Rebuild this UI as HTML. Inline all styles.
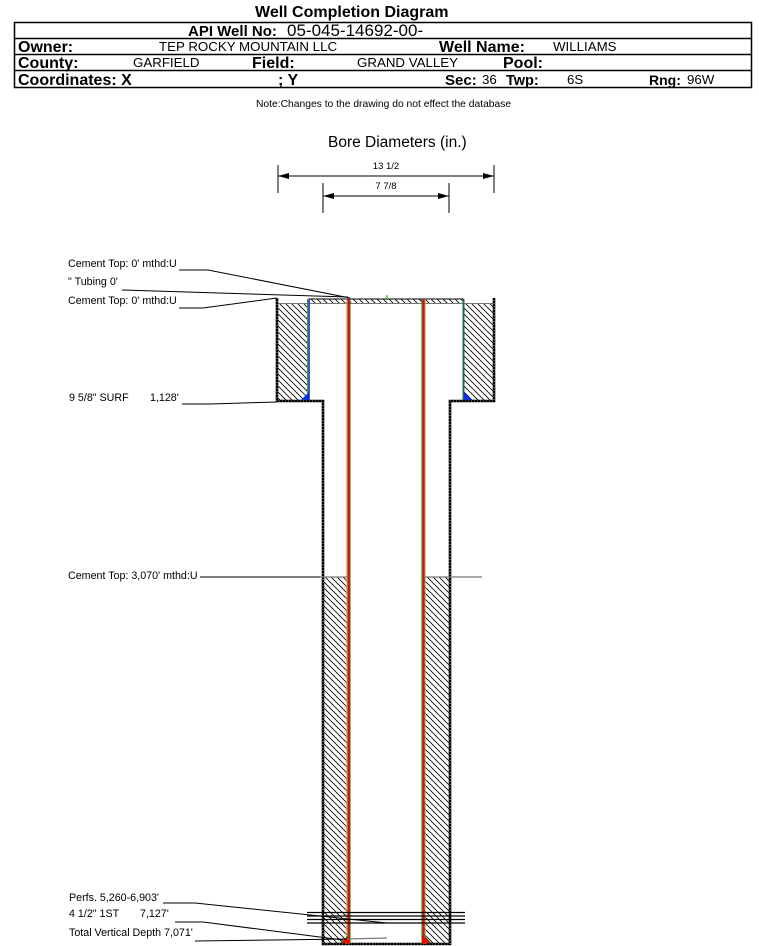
<!DOCTYPE html>
<html><head><meta charset="utf-8"><style>
html,body{margin:0;padding:0;background:#fff;}
svg{display:block;}
text{font-family:"Liberation Sans",Arial,sans-serif;fill:#000;}
.b{font-weight:bold;font-size:16px;}
.v{font-size:13.3px;}
.l{font-size:10.7px;}
</style></head><body>
<svg width="759" height="946" viewBox="0 0 759 946" xmlns="http://www.w3.org/2000/svg">
<defs>
<pattern id="h" patternUnits="userSpaceOnUse" width="6" height="6">
<path d="M-1,-1 L7,7 M-1,5 L1,7 M5,-1 L7,1" stroke="#000" stroke-width="0.8"/>
</pattern>
</defs>

<!-- Title -->
<text x="255" y="17" class="b">Well Completion Diagram</text>

<!-- Table -->
<rect x="14.5" y="22.5" width="737" height="65" fill="none" stroke="#000" stroke-width="1.5"/>
<line x1="14" y1="38.5" x2="752" y2="38.5" stroke="#000" stroke-width="1.5"/>
<line x1="14" y1="54.5" x2="752" y2="54.5" stroke="#000" stroke-width="1.5"/>
<line x1="14" y1="70.5" x2="752" y2="70.5" stroke="#000" stroke-width="1.5"/>

<text x="188" y="36" style="font-weight:bold;font-size:15px">API Well No:</text>
<text x="287" y="36" style="font-size:17px">05-045-14692-00-</text>

<text x="18" y="52" class="b">Owner:</text>
<text x="159" y="51" class="v">TEP ROCKY MOUNTAIN LLC</text>
<text x="439" y="52" class="b">Well Name:</text>
<text x="553" y="51" class="v">WILLIAMS</text>

<text x="18" y="68" class="b">County:</text>
<text x="133" y="67" class="v">GARFIELD</text>
<text x="252" y="68" class="b">Field:</text>
<text x="357" y="67" class="v">GRAND VALLEY</text>
<text x="503" y="68" class="b">Pool:</text>

<text x="18" y="85" class="b">Coordinates: X</text>
<text x="278" y="85" class="b">; Y</text>
<text x="445" y="85" style="font-weight:bold;font-size:15px">Sec:</text>
<text x="482" y="84" class="v">36</text>
<text x="506" y="85" style="font-weight:bold;font-size:14.5px">Twp:</text>
<text x="567" y="84" class="v">6S</text>
<text x="649" y="85" style="font-weight:bold;font-size:14px">Rng:</text>
<text x="687" y="84" class="v">96W</text>

<text x="256" y="107" style="font-size:10.3px">Note:Changes to the drawing do not effect the database</text>

<!-- Bore diameters -->
<text x="328" y="147" style="font-size:15.5px">Bore Diameters (in.)</text>
<line x1="278" y1="165" x2="278" y2="193" stroke="#000" stroke-width="1"/>
<line x1="494" y1="165" x2="494" y2="193" stroke="#000" stroke-width="1"/>
<line x1="278" y1="176" x2="494" y2="176" stroke="#000" stroke-width="1"/>
<polygon points="278,176 289,173 289,179" fill="#000"/>
<polygon points="494,176 483,173 483,179" fill="#000"/>
<text x="386" y="169" text-anchor="middle" style="font-size:9.5px">13 1/2</text>

<line x1="323" y1="183" x2="323" y2="213" stroke="#000" stroke-width="1"/>
<line x1="449" y1="183" x2="449" y2="213" stroke="#000" stroke-width="1"/>
<line x1="323" y1="196" x2="449" y2="196" stroke="#000" stroke-width="1"/>
<polygon points="323,196 334,193 334,199" fill="#000"/>
<polygon points="449,196 438,193 438,199" fill="#000"/>
<text x="386" y="189" text-anchor="middle" style="font-size:9.5px">7 7/8</text>

<!-- Cement hatching -->
<rect x="278" y="303" width="30" height="97" fill="url(#h)"/>
<rect x="464" y="303" width="30" height="97" fill="url(#h)"/>
<rect x="323" y="577" width="24" height="367" fill="url(#h)"/>
<rect x="424" y="577" width="26" height="367" fill="url(#h)"/>

<!-- top bar -->
<rect x="309" y="299" width="154" height="4.5" fill="url(#h)" stroke="#000" stroke-width="1"/>
<line x1="277" y1="303.5" x2="494" y2="303.5" stroke="#777" stroke-width="1"/>
<line x1="387" y1="295" x2="387" y2="300" stroke="#0a0" stroke-width="1"/>

<!-- walls -->
<path d="M277,298 V401 H323 V944 H450 V401 H494 V298" fill="none" stroke="#000" stroke-width="2.6"/>
<path d="M277,298 V401 H323 V944 H450 V401 H494 V298" fill="none" stroke="#fff" stroke-width="0.6" stroke-dasharray="1,2"/>

<!-- surface casing -->
<line x1="307.5" y1="299" x2="307.5" y2="400" stroke="#3a9a3a" stroke-width="1"/>
<line x1="309" y1="299" x2="309" y2="400" stroke="#0a2fc0" stroke-width="1.6"/>
<line x1="463.5" y1="299" x2="463.5" y2="400" stroke="#1b6a5a" stroke-width="2"/>
<polygon points="309,392 309,400 301,400" fill="#0a2fe0"/>
<polygon points="464,392 464,400 472,400" fill="#0a2fe0"/>

<!-- production casing -->
<line x1="346.3" y1="299" x2="346.3" y2="944" stroke="#7c7" stroke-width="0.8"/>
<rect x="347.3" y="299" width="2.2" height="645" fill="#f00"/>
<line x1="350" y1="299" x2="350" y2="944" stroke="#080" stroke-width="1"/>
<line x1="422" y1="299" x2="422" y2="944" stroke="#080" stroke-width="1"/>
<rect x="422.6" y="299" width="2.2" height="645" fill="#f00"/>
<line x1="425.3" y1="299" x2="425.3" y2="944" stroke="#7c7" stroke-width="0.8"/>
<polygon points="350,934 350,943 341,943" fill="#f00"/>
<polygon points="422,934 422,943 431,943" fill="#f00"/>
<line x1="341" y1="943" x2="350" y2="934" stroke="#080" stroke-width="0.8"/>
<line x1="431" y1="943" x2="422" y2="934" stroke="#080" stroke-width="0.8"/>

<!-- cement top 3070 line -->
<line x1="200" y1="577" x2="320" y2="577" stroke="#000" stroke-width="1"/>
<line x1="320" y1="577" x2="347" y2="577" stroke="#777" stroke-width="1.3"/>
<line x1="424" y1="577" x2="482" y2="577" stroke="#777" stroke-width="1.3"/>

<!-- perforations -->
<line x1="307" y1="912.5" x2="465" y2="912.5" stroke="#000" stroke-width="1.3"/>
<line x1="307" y1="916" x2="465" y2="916" stroke="#000" stroke-width="1.3"/>
<line x1="307" y1="919.5" x2="465" y2="919.5" stroke="#000" stroke-width="1.3"/>
<line x1="307" y1="923" x2="465" y2="923" stroke="#000" stroke-width="1.3"/>

<!-- leaders -->
<polyline points="179,270 208,270 350,298" fill="none" stroke="#000" stroke-width="1"/>
<polyline points="122,290 348,297" fill="none" stroke="#000" stroke-width="1"/>
<polyline points="179,308 203,308 277,298" fill="none" stroke="#000" stroke-width="1"/>
<polyline points="182,404 210,404 277,402" fill="none" stroke="#000" stroke-width="1"/>
<polyline points="163,903 195,903 387,923" fill="none" stroke="#000" stroke-width="1"/>
<polyline points="175,922 203,922 343,940" fill="none" stroke="#000" stroke-width="1"/>
<polyline points="195,941 347,939" fill="none" stroke="#000" stroke-width="1"/>
<line x1="347" y1="939" x2="387" y2="938" stroke="#777" stroke-width="1.3"/>

<!-- labels -->
<text x="68" y="267" class="l">Cement Top: 0' mthd:U</text>
<text x="68" y="285" class="l">" Tubing 0'</text>
<text x="68" y="304" class="l">Cement Top: 0' mthd:U</text>
<text x="69" y="401" class="l">9 5/8" SURF</text>
<text x="150" y="401" class="l">1,128'</text>
<text x="68" y="579" class="l">Cement Top: 3,070' mthd:U</text>
<text x="69" y="901" class="l">Perfs. 5,260-6,903'</text>
<text x="69" y="917" class="l">4 1/2" 1ST</text>
<text x="140" y="917" class="l">7,127'</text>
<text x="69" y="936" class="l">Total Vertical Depth 7,071'</text>
</svg>
</body></html>
